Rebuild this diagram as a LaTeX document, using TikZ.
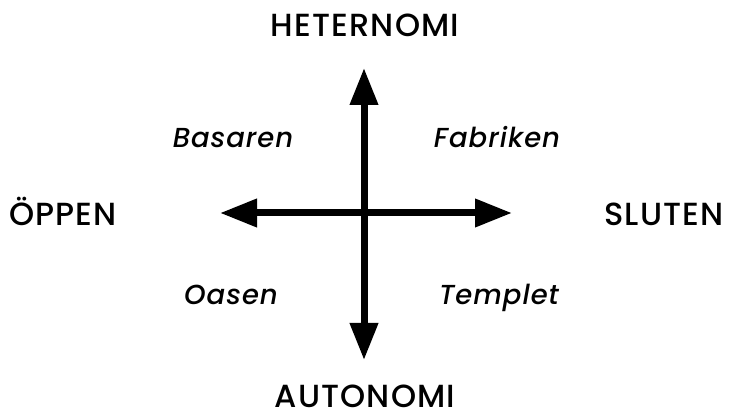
\documentclass[tikz,border=0pt]{standalone}
\usepackage{fontspec}
\setmainfont{Poppins}[UprightFont=* Medium, ItalicFont=* Medium Italic, LetterSpace=3.5]
\usetikzlibrary{arrows.meta}
\begin{document}
\begin{tikzpicture}[x=1pt,y=-1pt,
  axis/.style={line width=7pt,-{Triangle[length=37pt,width=27pt]}},
  pole/.style={anchor=base,inner sep=0pt,text depth=0pt,font=\fontsize{32}{34}\selectfont},
  quad/.style={anchor=base,inner sep=0pt,font=\fontsize{27.5}{31}\selectfont\itshape}]
\useasboundingbox (0,0) rectangle (729,414);
\coordinate (c) at (364,213);
\coordinate (t) at (364,68);
\coordinate (b) at (364,360);
\coordinate (l) at (220,213);
\coordinate (r) at (512,213);
\draw[axis] (c) -- (t);
\draw[axis] (c) -- (b);
\draw[axis] (c) -- (l);
\draw[axis] (c) -- (r);
\node[pole] (het) at (365,37) {HETERNOMI};
\node[pole] (aut) at (365,407) {AUTONOMI};
\node[pole] (opp) at (63,226) {ÖPPEN};
\node[pole] (slu) at (664,226) {SLUTEN};
\node[quad] (bas) at (233,148) {Basaren};
\node[quad] (fab) at (497,148) {Fabriken};
\node[quad] (oas) at (231,305) {Oasen};
\node[quad] (tem) at (499,305) {Templet};
\end{tikzpicture}
\end{document}
